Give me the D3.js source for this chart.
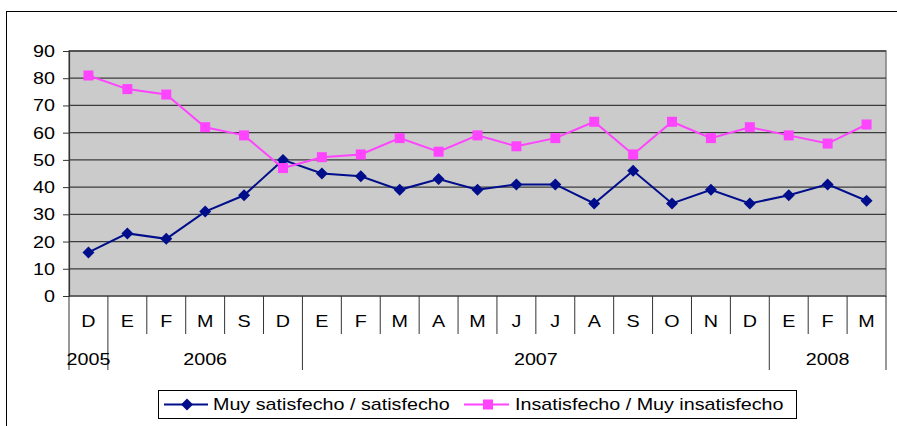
<!DOCTYPE html>
<html><head><meta charset="utf-8">
<script src="https://cdn.jsdelivr.net/npm/d3@7"></script>
<style>body{margin:0;background:#fff}svg{display:block}text{font-family:"Liberation Sans",Arial,sans-serif}</style>
</head><body>
<svg id="c" width="897" height="426"></svg>
<script>
const months = ["D","E","F","M","S","D","E","F","M","A","M","J","J","A","S","O","N","D","E","F","M"];
const years = [{label:"2005",start:0,end:1},{label:"2006",start:1,end:6},{label:"2007",start:6,end:18},{label:"2008",start:18,end:21}];
const satisfecho = [16,23,21,31,37,50,45,44,39,43,39,41,41,34,46,34,39,34,37,41,35];
const insatisfecho = [81,76,74,62,59,47,51,52,58,53,59,55,58,64,52,64,58,62,59,56,63];
const yTicks = [0,10,20,30,40,50,60,70,80,90];
const seriesNames = ["Muy satisfecho / satisfecho","Insatisfecho / Muy insatisfecho"];
const colors = ["#000e8c","#ff44ff"];

const SX = 1.16;
function stretch(sel){
  sel.each(function(){
    const t = d3.select(this);
    const xv = +t.attr("x") || 0;
    t.attr("transform",`translate(${xv*(1-SX)},0) scale(${SX},1)`);
  });
}

const svg = d3.select("#c");
const L=69, R=886, T=51, B=296;
const idx = d3.range(months.length);
const x = d3.scaleBand().domain(idx).range([L,R]).paddingInner(0).paddingOuter(0);
const y = d3.scaleLinear().domain([0,90]).range([B,T]);

// outer frame
svg.append("rect").attr("x",6.5).attr("y",11.5).attr("width",900).attr("height",430)
  .attr("fill","#fff").attr("stroke","#000").attr("stroke-width",1);

// plot bg
svg.append("rect").attr("x",L).attr("y",T).attr("width",R-L).attr("height",B-T)
  .attr("fill","#cbcbcb").attr("stroke","#808080").attr("stroke-width",1.5);

// gridlines
svg.append("g").selectAll("line").data(yTicks.filter(d=>d>0)).join("line")
  .attr("x1",L).attr("x2",R).attr("y1",d=>y(d)).attr("y2",d=>y(d))
  .attr("stroke","#3c3c3c").attr("stroke-width",1.3);

// y axis
const yAxis = d3.axisLeft(y).tickValues(yTicks).tickSize(6).tickPadding(8);
const gy = svg.append("g").attr("transform",`translate(${L},0)`).call(yAxis);
gy.select(".domain").attr("stroke","#333").attr("stroke-width",1.2);
gy.selectAll(".tick line").attr("stroke","#333");
gy.selectAll("text").attr("font-size",17).attr("fill","#000").attr("font-family","Liberation Sans, Arial, sans-serif").call(stretch);

// x axis baseline
svg.append("line").attr("x1",L).attr("x2",R).attr("y1",B).attr("y2",B).attr("stroke","#333").attr("stroke-width",1.2);

// month separators
const g = svg.append("g");
idx.concat([months.length]).forEach(i=>{
  const xv = i<months.length ? x(i) : R;
  g.append("line").attr("x1",xv).attr("x2",xv).attr("y1",B).attr("y2",334).attr("stroke","#333").attr("stroke-width",1);
});
g.selectAll("text.m").data(idx).join("text").attr("class","m")
  .attr("x",i=>x(i)+x.bandwidth()/2).attr("y",327).attr("text-anchor","middle")
  .attr("font-size",17).attr("fill","#000").text(i=>months[i]).call(stretch);

// year separators
const yb = new Set(); years.forEach(yr=>{yb.add(yr.start);yb.add(yr.end);});
[...yb].forEach(i=>{
  const xv = i<months.length ? x(i) : R;
  g.append("line").attr("x1",xv).attr("x2",xv).attr("y1",334).attr("y2",370).attr("stroke","#333").attr("stroke-width",1);
});
g.selectAll("text.y").data(years).join("text").attr("class","y")
  .attr("x",d=>{const a=x(d.start); const b=d.end<months.length?x(d.end):R; return (a+b)/2;})
  .attr("y",365).attr("text-anchor","middle").attr("font-size",17).attr("fill","#000").text(d=>d.label).call(stretch);

// lines
const cx = i=>x(i)+x.bandwidth()/2;
const line = d3.line().x((d,i)=>cx(i)).y(d=>y(d));
svg.append("path").datum(satisfecho).attr("d",line).attr("fill","none").attr("stroke",colors[0]).attr("stroke-width",2);
svg.append("path").datum(insatisfecho).attr("d",line).attr("fill","none").attr("stroke",colors[1]).attr("stroke-width",2);

const diamond = (px,py,r)=>`M${px},${py-r}L${px+r},${py}L${px},${py+r}L${px-r},${py}Z`;
svg.append("g").selectAll("path").data(satisfecho).join("path")
  .attr("d",(d,i)=>diamond(cx(i),y(d),6)).attr("fill",colors[0]);
svg.append("g").selectAll("rect").data(insatisfecho).join("rect")
  .attr("x",(d,i)=>cx(i)-5).attr("y",d=>y(d)-5).attr("width",10).attr("height",10).attr("fill",colors[1]);

// legend
const lg = svg.append("g");
lg.append("rect").attr("x",158.5).attr("y",390.5).attr("width",638).attr("height",28).attr("fill","#fff").attr("stroke","#000");
lg.append("line").attr("x1",164).attr("x2",208).attr("y1",404.5).attr("y2",404.5).attr("stroke",colors[0]).attr("stroke-width",2);
lg.append("path").attr("d",diamond(187,404.5,6)).attr("fill",colors[0]);
lg.append("text").attr("x",213).attr("y",410.5).attr("font-size",17).attr("fill","#000").text(seriesNames[0]).call(stretch);
lg.append("line").attr("x1",464).attr("x2",509).attr("y1",404.5).attr("y2",404.5).attr("stroke",colors[1]).attr("stroke-width",2);
lg.append("rect").attr("x",483).attr("y",399.5).attr("width",10).attr("height",10).attr("fill",colors[1]);
lg.append("text").attr("x",515).attr("y",410.5).attr("font-size",17).attr("fill","#000").text(seriesNames[1]).call(stretch);
</script>
</body></html>
